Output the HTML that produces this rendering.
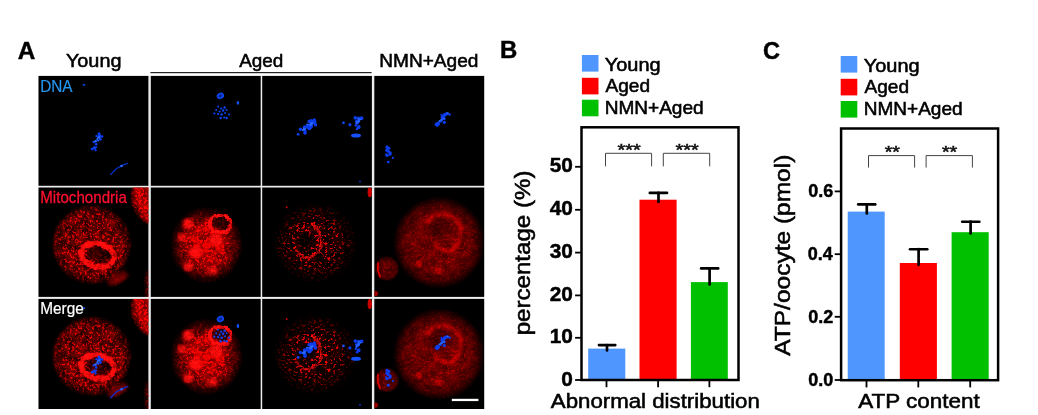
<!DOCTYPE html>
<html lang="en">
<head>
<meta charset="utf-8">
<title>Figure</title>
<style>
html,body{margin:0;padding:0;background:#fff;}
body{width:1038px;height:415px;overflow:hidden;}
svg{display:block;}
text{font-family:"Liberation Sans", Arial, Helvetica, sans-serif;}
.b{font-weight:bold;}
</style>
</head>
<body>
<svg width="1038" height="415" viewBox="0 0 1038 415">
<rect x="0" y="0" width="1038" height="415" fill="#ffffff"/>

<defs>
<filter id="spk" x="-5%" y="-5%" width="110%" height="110%" color-interpolation-filters="sRGB">
<feTurbulence type="fractalNoise" baseFrequency="0.4 0.44" numOctaves="3" seed="3" result="n1"/>
<feColorMatrix in="n1" type="matrix" values="0 0 0 0 1  0 0 0 0 1  0 0 0 0 1  5.5 0 0 0 -2.85" result="m1"/>
<feTurbulence type="fractalNoise" baseFrequency="0.12" numOctaves="2" seed="23" result="n2"/>
<feColorMatrix in="n2" type="matrix" values="0 0 0 0 1  0 0 0 0 1  0 0 0 0 1  0 3 0 0 -1" result="m2"/>
<feComposite in="SourceGraphic" in2="m2" operator="arithmetic" k1="0.42" k2="0.3" k3="0" k4="0" result="base"/>
<feComposite in="SourceGraphic" in2="m1" operator="in" result="sp"/>
<feComposite in="base" in2="sp" operator="arithmetic" k1="0" k2="1" k3="0.95" k4="0"/>
</filter>
<filter id="spkb" x="-5%" y="-5%" width="110%" height="110%" color-interpolation-filters="sRGB">
<feTurbulence type="fractalNoise" baseFrequency="0.36 0.4" numOctaves="3" seed="8" result="n1"/>
<feColorMatrix in="n1" type="matrix" values="0 0 0 0 1  0 0 0 0 1  0 0 0 0 1  5.5 0 0 0 -2.8" result="m1"/>
<feTurbulence type="fractalNoise" baseFrequency="0.12" numOctaves="2" seed="28" result="n2"/>
<feColorMatrix in="n2" type="matrix" values="0 0 0 0 1  0 0 0 0 1  0 0 0 0 1  0 3 0 0 -1" result="m2"/>
<feComposite in="SourceGraphic" in2="m2" operator="arithmetic" k1="0.45" k2="0.55" k3="0" k4="0" result="base"/>
<feComposite in="SourceGraphic" in2="m1" operator="in" result="sp"/>
<feComposite in="base" in2="sp" operator="arithmetic" k1="0" k2="1" k3="0.9" k4="0"/>
</filter>
<filter id="spk2" x="-5%" y="-5%" width="110%" height="110%" color-interpolation-filters="sRGB">
<feTurbulence type="fractalNoise" baseFrequency="0.36 0.4" numOctaves="3" seed="11" result="n1"/>
<feColorMatrix in="n1" type="matrix" values="0 0 0 0 1  0 0 0 0 1  0 0 0 0 1  7 0 0 0 -3.95" result="m1"/>
<feTurbulence type="fractalNoise" baseFrequency="0.12" numOctaves="2" seed="31" result="n2"/>
<feColorMatrix in="n2" type="matrix" values="0 0 0 0 1  0 0 0 0 1  0 0 0 0 1  0 3 0 0 -1" result="m2"/>
<feComposite in="SourceGraphic" in2="m2" operator="arithmetic" k1="0.18" k2="0.03" k3="0" k4="0" result="base"/>
<feComposite in="SourceGraphic" in2="m1" operator="in" result="sp"/>
<feComposite in="base" in2="sp" operator="arithmetic" k1="0" k2="1" k3="1.25" k4="0"/>
</filter>
<filter id="spk4" x="-5%" y="-5%" width="110%" height="110%" color-interpolation-filters="sRGB">
<feTurbulence type="fractalNoise" baseFrequency="0.42 0.46" numOctaves="3" seed="5" result="n1"/>
<feColorMatrix in="n1" type="matrix" values="0 0 0 0 1  0 0 0 0 1  0 0 0 0 1  5.5 0 0 0 -2.9" result="m1"/>
<feTurbulence type="fractalNoise" baseFrequency="0.12" numOctaves="2" seed="25" result="n2"/>
<feColorMatrix in="n2" type="matrix" values="0 0 0 0 1  0 0 0 0 1  0 0 0 0 1  0 3 0 0 -1" result="m2"/>
<feComposite in="SourceGraphic" in2="m2" operator="arithmetic" k1="0.25" k2="0.5" k3="0" k4="0" result="base"/>
<feComposite in="SourceGraphic" in2="m1" operator="in" result="sp"/>
<feComposite in="base" in2="sp" operator="arithmetic" k1="0" k2="1" k3="0.4" k4="0"/>
</filter>
<filter id="spkr" x="-5%" y="-5%" width="110%" height="110%" color-interpolation-filters="sRGB">
<feTurbulence type="fractalNoise" baseFrequency="0.36 0.4" numOctaves="3" seed="17" result="n1"/>
<feColorMatrix in="n1" type="matrix" values="0 0 0 0 1  0 0 0 0 1  0 0 0 0 1  5 0 0 0 -2.3" result="m1"/>
<feTurbulence type="fractalNoise" baseFrequency="0.12" numOctaves="2" seed="37" result="n2"/>
<feColorMatrix in="n2" type="matrix" values="0 0 0 0 1  0 0 0 0 1  0 0 0 0 1  0 3 0 0 -1" result="m2"/>
<feComposite in="SourceGraphic" in2="m2" operator="arithmetic" k1="0.5" k2="0.6" k3="0" k4="0" result="base"/>
<feComposite in="SourceGraphic" in2="m1" operator="in" result="sp"/>
<feComposite in="base" in2="sp" operator="arithmetic" k1="0" k2="1" k3="0.6" k4="0"/>
</filter>
<filter id="bl1"><feGaussianBlur stdDeviation="1"/></filter>
<filter id="bl15"><feGaussianBlur stdDeviation="1.5"/></filter>
<filter id="bl2"><feGaussianBlur stdDeviation="2"/></filter>
<filter id="bl3"><feGaussianBlur stdDeviation="3"/></filter>
<filter id="bl05"><feGaussianBlur stdDeviation="0.45"/></filter>
<filter id="rough" x="-10%" y="-10%" width="120%" height="120%">
<feTurbulence type="fractalNoise" baseFrequency="0.25" numOctaves="2" seed="4" result="t"/>
<feDisplacementMap in="SourceGraphic" in2="t" scale="5" xChannelSelector="R" yChannelSelector="G" result="d"/>
<feGaussianBlur in="d" stdDeviation="0.7"/>
</filter>
<radialGradient id="cellA" cx="50%" cy="50%" r="50%">
<stop offset="0" stop-color="#e60000" stop-opacity="0.95"/>
<stop offset="0.7" stop-color="#e60000" stop-opacity="0.9"/>
<stop offset="0.88" stop-color="#e60000" stop-opacity="0.6"/>
<stop offset="1" stop-color="#e60000" stop-opacity="0"/>
</radialGradient>
<radialGradient id="cellD" cx="50%" cy="50%" r="50%">
<stop offset="0" stop-color="#d00000" stop-opacity="0.8"/>
<stop offset="0.75" stop-color="#d00000" stop-opacity="0.72"/>
<stop offset="0.9" stop-color="#d00000" stop-opacity="0.45"/>
<stop offset="1" stop-color="#d00000" stop-opacity="0"/>
</radialGradient>
<radialGradient id="cellE" cx="50%" cy="50%" r="50%">
<stop offset="0" stop-color="#c80000" stop-opacity="0.8"/>
<stop offset="0.6" stop-color="#c80000" stop-opacity="0.74"/>
<stop offset="0.82" stop-color="#c80000" stop-opacity="0.5"/>
<stop offset="1" stop-color="#c80000" stop-opacity="0"/>
</radialGradient>
<radialGradient id="cellSoft" cx="50%" cy="50%" r="50%">
<stop offset="0" stop-color="#ee0000" stop-opacity="1"/>
<stop offset="0.45" stop-color="#ee0000" stop-opacity="0.8"/>
<stop offset="0.8" stop-color="#ee0000" stop-opacity="0.3"/>
<stop offset="1" stop-color="#ee0000" stop-opacity="0"/>
</radialGradient>

<clipPath id="cp00"><rect x="38.5" y="75.9" width="109.9" height="109.9"/></clipPath>
<clipPath id="cp01"><rect x="38.5" y="187.5" width="109.9" height="109.4"/></clipPath>
<clipPath id="cp02"><rect x="38.5" y="298.9" width="109.9" height="110.1"/></clipPath>
<clipPath id="cp10"><rect x="150.8" y="75.9" width="109.9" height="109.9"/></clipPath>
<clipPath id="cp11"><rect x="150.8" y="187.5" width="109.9" height="109.4"/></clipPath>
<clipPath id="cp12"><rect x="150.8" y="298.9" width="109.9" height="110.1"/></clipPath>
<clipPath id="cp20"><rect x="262.2" y="75.9" width="109.7" height="109.9"/></clipPath>
<clipPath id="cp21"><rect x="262.2" y="187.5" width="109.7" height="109.4"/></clipPath>
<clipPath id="cp22"><rect x="262.2" y="298.9" width="109.7" height="110.1"/></clipPath>
<clipPath id="cp30"><rect x="374.3" y="75.9" width="109.9" height="109.9"/></clipPath>
<clipPath id="cp31"><rect x="374.3" y="187.5" width="109.9" height="109.4"/></clipPath>
<clipPath id="cp32"><rect x="374.3" y="298.9" width="109.9" height="110.1"/></clipPath>
</defs>
<text class="b" transform="translate(17.69 59.30) scale(1.0053 1)" font-size="24.20" fill="#000" stroke="#000" stroke-width="0.45">A</text>
<text transform="translate(65.95 66.80) scale(1.0494 1)" font-size="18.90" fill="#000" stroke="#000" stroke-width="0.55">Young</text>
<text transform="translate(239.15 66.80) scale(0.9999 1)" font-size="18.90" fill="#000" stroke="#000" stroke-width="0.55">Aged</text>
<text transform="translate(379.23 66.80) scale(1.0100 1)" font-size="18.90" fill="#000" stroke="#000" stroke-width="0.55">NMN+Aged</text>
<rect x="150.4" y="72" width="221.2" height="1.2" fill="#222"/>
<rect x="38.5" y="75.9" width="445.7" height="333.1" fill="#eeeeee"/>
<rect x="38.5" y="75.9" width="109.9" height="109.9" fill="#000"/>
<rect x="38.5" y="187.5" width="109.9" height="109.4" fill="#000"/>
<rect x="38.5" y="298.9" width="109.9" height="110.1" fill="#000"/>
<rect x="150.8" y="75.9" width="109.9" height="109.9" fill="#000"/>
<rect x="150.8" y="187.5" width="109.9" height="109.4" fill="#000"/>
<rect x="150.8" y="298.9" width="109.9" height="110.1" fill="#000"/>
<rect x="262.2" y="75.9" width="109.7" height="109.9" fill="#000"/>
<rect x="262.2" y="187.5" width="109.7" height="109.4" fill="#000"/>
<rect x="262.2" y="298.9" width="109.7" height="110.1" fill="#000"/>
<rect x="374.3" y="75.9" width="109.9" height="109.9" fill="#000"/>
<rect x="374.3" y="187.5" width="109.9" height="109.4" fill="#000"/>
<rect x="374.3" y="298.9" width="109.9" height="110.1" fill="#000"/>
<g clip-path="url(#cp00)"><g transform="translate(0 0)" filter="url(#bl05)"><g fill="#0c3cf0"><circle cx="95.6" cy="150.2" r="1.13"/><circle cx="93.8" cy="142.0" r="1.28"/><circle cx="97.7" cy="140.4" r="0.97"/><circle cx="98.0" cy="136.8" r="1.27"/><circle cx="100.3" cy="139.2" r="1.48"/><circle cx="94.5" cy="147.8" r="1.65"/><circle cx="99.7" cy="136.1" r="1.35"/><circle cx="99.6" cy="135.3" r="1.23"/><circle cx="94.0" cy="147.8" r="1.11"/><circle cx="96.2" cy="144.2" r="1.31"/><circle cx="94.7" cy="147.8" r="1.29"/><circle cx="96.2" cy="147.2" r="0.96"/><circle cx="96.3" cy="136.0" r="1.08"/><circle cx="99.0" cy="133.9" r="1.58"/><circle cx="92.2" cy="149.1" r="1.47"/><circle cx="102.1" cy="136.4" r="1.26"/></g><g fill="#2a6cff"><circle cx="99.0" cy="136.9" r="0.75"/><circle cx="98.2" cy="137.8" r="1.10"/><circle cx="97.2" cy="139.2" r="1.03"/><circle cx="98.5" cy="140.7" r="0.79"/><circle cx="95.6" cy="141.2" r="1.25"/><circle cx="99.6" cy="137.2" r="1.00"/></g><path d="M110.6 174.6 L116.5 168.5 L124 164.6 L127.6 163.4" fill="none" stroke="#0a30c8" stroke-width="1.3" stroke-linecap="round"/><circle cx="121.5" cy="166" r="1.3" fill="#2a66ff"/><rect x="82.6" y="84.2" width="2.6" height="1.4" fill="#1450ff"/></g></g>
<g clip-path="url(#cp01)"><g transform="translate(0 0)"><g filter="url(#spk)"><circle cx="91.6" cy="244.6" r="40.5" fill="url(#cellD)"/><ellipse cx="118" cy="278" rx="11" ry="5" transform="rotate(-30 118 278)" fill="#c00000" opacity="0.45" filter="url(#bl2)"/><ellipse cx="149" cy="285" rx="3.5" ry="14" fill="#d00000" opacity="0.7" filter="url(#bl2)"/></g><g filter="url(#spkb)"><circle cx="162.6" cy="196" r="33" fill="url(#cellA)"/></g><ellipse cx="117.5" cy="278.8" rx="10.5" ry="5" transform="rotate(-28 117.5 278.8)" fill="#a00000" opacity="0.5" filter="url(#bl15)"/><ellipse cx="99.5" cy="253.5" rx="12" ry="9" fill="#000" opacity="0.55" transform="rotate(15 99.5 253.5)" filter="url(#bl15)"/><g filter="url(#spkr)"><ellipse cx="97.6" cy="255.3" rx="16.6" ry="11.8" fill="none" stroke="#ff0808" stroke-width="5.6" opacity="0.9" transform="rotate(15 97.6 255.3)" filter="url(#rough)"/></g></g></g>
<g clip-path="url(#cp02)"><g transform="translate(0 111.6)"><g filter="url(#spk)"><circle cx="91.6" cy="244.6" r="40.5" fill="url(#cellD)"/><ellipse cx="118" cy="278" rx="11" ry="5" transform="rotate(-30 118 278)" fill="#c00000" opacity="0.45" filter="url(#bl2)"/><ellipse cx="149" cy="285" rx="3.5" ry="14" fill="#d00000" opacity="0.7" filter="url(#bl2)"/></g><g filter="url(#spkb)"><circle cx="162.6" cy="196" r="33" fill="url(#cellA)"/></g><ellipse cx="117.5" cy="278.8" rx="10.5" ry="5" transform="rotate(-28 117.5 278.8)" fill="#a00000" opacity="0.5" filter="url(#bl15)"/><ellipse cx="99.5" cy="253.5" rx="12" ry="9" fill="#000" opacity="0.55" transform="rotate(15 99.5 253.5)" filter="url(#bl15)"/><g filter="url(#spkr)"><ellipse cx="97.6" cy="255.3" rx="16.6" ry="11.8" fill="none" stroke="#ff0808" stroke-width="5.6" opacity="0.9" transform="rotate(15 97.6 255.3)" filter="url(#rough)"/></g></g><g transform="translate(0 223.2)" filter="url(#bl05)"><g fill="#0c3cf0"><circle cx="95.6" cy="150.2" r="1.13"/><circle cx="93.8" cy="142.0" r="1.28"/><circle cx="97.7" cy="140.4" r="0.97"/><circle cx="98.0" cy="136.8" r="1.27"/><circle cx="100.3" cy="139.2" r="1.48"/><circle cx="94.5" cy="147.8" r="1.65"/><circle cx="99.7" cy="136.1" r="1.35"/><circle cx="99.6" cy="135.3" r="1.23"/><circle cx="94.0" cy="147.8" r="1.11"/><circle cx="96.2" cy="144.2" r="1.31"/><circle cx="94.7" cy="147.8" r="1.29"/><circle cx="96.2" cy="147.2" r="0.96"/><circle cx="96.3" cy="136.0" r="1.08"/><circle cx="99.0" cy="133.9" r="1.58"/><circle cx="92.2" cy="149.1" r="1.47"/><circle cx="102.1" cy="136.4" r="1.26"/></g><g fill="#2a6cff"><circle cx="99.0" cy="136.9" r="0.75"/><circle cx="98.2" cy="137.8" r="1.10"/><circle cx="97.2" cy="139.2" r="1.03"/><circle cx="98.5" cy="140.7" r="0.79"/><circle cx="95.6" cy="141.2" r="1.25"/><circle cx="99.6" cy="137.2" r="1.00"/></g><path d="M110.6 174.6 L116.5 168.5 L124 164.6 L127.6 163.4" fill="none" stroke="#0a30c8" stroke-width="1.3" stroke-linecap="round"/><circle cx="121.5" cy="166" r="1.3" fill="#2a66ff"/><rect x="82.6" y="84.2" width="2.6" height="1.4" fill="#1450ff"/></g></g>
<g clip-path="url(#cp10)"><g transform="translate(0 0)" filter="url(#bl05)"><ellipse cx="220.4" cy="95.8" rx="3" ry="2.3" transform="rotate(-25 220.4 95.8)" fill="#08269a" stroke="#1048f0" stroke-width="1.6"/><ellipse cx="237.9" cy="102.8" rx="1.3" ry="1.9" fill="#1450ff"/><g fill="#0e44f4"><circle cx="218.1" cy="106.5" r="1.00"/><circle cx="221.1" cy="108.5" r="1.12"/><circle cx="224.6" cy="107.5" r="1.25"/><circle cx="216.1" cy="110" r="1.00"/><circle cx="219.6" cy="111.5" r="1.12"/><circle cx="223.1" cy="110.5" r="1.25"/><circle cx="226.6" cy="110" r="1.00"/><circle cx="218.1" cy="114" r="1.12"/><circle cx="221.6" cy="114.5" r="1.25"/><circle cx="225.1" cy="113" r="1.00"/><circle cx="229.1" cy="114.5" r="1.12"/><circle cx="220.6" cy="118" r="1.25"/><circle cx="224.1" cy="117.5" r="1.00"/><circle cx="214.4" cy="113.5" r="1.12"/><circle cx="226.6" cy="118" r="1.25"/></g></g></g>
<g clip-path="url(#cp11)"><g transform="translate(0 0)"><g filter="url(#spkb)"><ellipse cx="206.5" cy="245" rx="36.5" ry="38.5" fill="url(#cellSoft)"/></g><g filter="url(#spkr)"><circle cx="188.4" cy="224" r="5.5" fill="#ff0a0a" opacity="0.85" filter="url(#bl15)"/><circle cx="196.3" cy="252" r="6.5" fill="#ff0a0a" opacity="0.85" filter="url(#bl15)"/><circle cx="216" cy="240" r="6.5" fill="#ff0a0a" opacity="0.85" filter="url(#bl15)"/><circle cx="212.2" cy="270.4" r="5" fill="#ff0a0a" opacity="0.85" filter="url(#bl15)"/><circle cx="188.4" cy="266.5" r="5" fill="#ff0a0a" opacity="0.85" filter="url(#bl15)"/><circle cx="181.8" cy="237.3" r="4" fill="#ff0a0a" opacity="0.85" filter="url(#bl15)"/></g><ellipse cx="220.3" cy="223.3" rx="8.5" ry="7" fill="#000" opacity="0.5" filter="url(#bl1)"/><g filter="url(#spkr)"><ellipse cx="220.3" cy="224" rx="10.6" ry="9" fill="none" stroke="#ff0a0a" stroke-width="3.6" opacity="1.0" transform="rotate(0 220.3 224)" filter="url(#rough)"/></g></g></g>
<g clip-path="url(#cp12)"><g transform="translate(0 111.6)"><g filter="url(#spkb)"><ellipse cx="206.5" cy="245" rx="36.5" ry="38.5" fill="url(#cellSoft)"/></g><g filter="url(#spkr)"><circle cx="188.4" cy="224" r="5.5" fill="#ff0a0a" opacity="0.85" filter="url(#bl15)"/><circle cx="196.3" cy="252" r="6.5" fill="#ff0a0a" opacity="0.85" filter="url(#bl15)"/><circle cx="216" cy="240" r="6.5" fill="#ff0a0a" opacity="0.85" filter="url(#bl15)"/><circle cx="212.2" cy="270.4" r="5" fill="#ff0a0a" opacity="0.85" filter="url(#bl15)"/><circle cx="188.4" cy="266.5" r="5" fill="#ff0a0a" opacity="0.85" filter="url(#bl15)"/><circle cx="181.8" cy="237.3" r="4" fill="#ff0a0a" opacity="0.85" filter="url(#bl15)"/></g><ellipse cx="220.3" cy="223.3" rx="8.5" ry="7" fill="#000" opacity="0.5" filter="url(#bl1)"/><g filter="url(#spkr)"><ellipse cx="220.3" cy="224" rx="10.6" ry="9" fill="none" stroke="#ff0a0a" stroke-width="3.6" opacity="1.0" transform="rotate(0 220.3 224)" filter="url(#rough)"/></g></g><g transform="translate(0 223.2)" filter="url(#bl05)"><ellipse cx="220.4" cy="95.8" rx="3" ry="2.3" transform="rotate(-25 220.4 95.8)" fill="#08269a" stroke="#1048f0" stroke-width="1.6"/><ellipse cx="237.9" cy="102.8" rx="1.3" ry="1.9" fill="#1450ff"/><g fill="#0e44f4"><circle cx="218.1" cy="106.5" r="1.00"/><circle cx="221.1" cy="108.5" r="1.12"/><circle cx="224.6" cy="107.5" r="1.25"/><circle cx="216.1" cy="110" r="1.00"/><circle cx="219.6" cy="111.5" r="1.12"/><circle cx="223.1" cy="110.5" r="1.25"/><circle cx="226.6" cy="110" r="1.00"/><circle cx="218.1" cy="114" r="1.12"/><circle cx="221.6" cy="114.5" r="1.25"/><circle cx="225.1" cy="113" r="1.00"/><circle cx="229.1" cy="114.5" r="1.12"/><circle cx="220.6" cy="118" r="1.25"/><circle cx="224.1" cy="117.5" r="1.00"/><circle cx="214.4" cy="113.5" r="1.12"/><circle cx="226.6" cy="118" r="1.25"/></g></g></g>
<g clip-path="url(#cp20)"><g transform="translate(0 0)" filter="url(#bl05)"><g fill="#0c3cf0"><circle cx="300.5" cy="129.2" r="1.75"/><circle cx="308.2" cy="125.2" r="1.25"/><circle cx="298.1" cy="134.3" r="1.41"/><circle cx="314.3" cy="119.8" r="1.63"/><circle cx="310.6" cy="120.7" r="1.33"/><circle cx="308.9" cy="125.9" r="2.00"/><circle cx="306.6" cy="126.9" r="1.25"/><circle cx="309.1" cy="121.6" r="1.74"/><circle cx="305.1" cy="133.0" r="1.63"/><circle cx="310.7" cy="125.1" r="2.01"/><circle cx="311.1" cy="126.0" r="1.94"/><circle cx="304.8" cy="127.2" r="2.06"/><circle cx="313.6" cy="123.1" r="1.39"/><circle cx="315.0" cy="121.8" r="1.60"/><circle cx="308.1" cy="125.1" r="1.55"/><circle cx="305.0" cy="131.1" r="1.74"/><circle cx="309.3" cy="128.2" r="2.06"/><circle cx="311.6" cy="121.3" r="2.12"/><circle cx="310.6" cy="126.8" r="2.09"/><circle cx="315.5" cy="124.8" r="1.72"/><circle cx="310.6" cy="125.3" r="1.73"/><circle cx="304.6" cy="133.0" r="1.25"/></g><g fill="#2a6cff"><circle cx="305.0" cy="128.8" r="0.86"/><circle cx="302.9" cy="130.1" r="1.01"/><circle cx="312.5" cy="123.0" r="0.90"/><circle cx="307.0" cy="124.4" r="0.94"/><circle cx="304.1" cy="129.1" r="1.33"/><circle cx="311.5" cy="123.6" r="1.26"/><circle cx="311.1" cy="123.8" r="1.15"/><circle cx="310.6" cy="124.7" r="1.29"/></g><g fill="#0c3cf0"><circle cx="358.1" cy="121.1" r="1.83"/><circle cx="355.3" cy="117.9" r="1.81"/><circle cx="349.9" cy="124.7" r="1.59"/><circle cx="360.9" cy="118.9" r="1.14"/><circle cx="357.4" cy="122.9" r="1.52"/><circle cx="357.1" cy="129.0" r="1.23"/><circle cx="359.2" cy="126.5" r="1.18"/><circle cx="357.6" cy="118.4" r="1.16"/><circle cx="358.3" cy="121.3" r="1.77"/><circle cx="355.8" cy="125.6" r="1.23"/><circle cx="361.6" cy="118.2" r="1.84"/><circle cx="356.5" cy="121.4" r="1.61"/><circle cx="358.6" cy="127.2" r="1.85"/><circle cx="358.7" cy="117.8" r="1.30"/></g><g fill="#2a6cff"><circle cx="360.5" cy="119.5" r="0.84"/><circle cx="356.4" cy="123.5" r="1.06"/><circle cx="358.9" cy="121.2" r="1.12"/><circle cx="357.4" cy="121.9" r="1.14"/><circle cx="358.9" cy="119.1" r="1.08"/></g><ellipse cx="356" cy="135.5" rx="5" ry="2" fill="#1450ff"/><circle cx="343.5" cy="122.7" r="1.3" fill="#1450ff"/><circle cx="360" cy="181.6" r="1" fill="#0b2bb0"/></g></g>
<g clip-path="url(#cp21)"><g transform="translate(0 0)"><g filter="url(#spk2)"><ellipse cx="315" cy="242.6" rx="42" ry="40" fill="url(#cellSoft)"/><ellipse cx="305.7" cy="241" rx="8" ry="7.5" fill="#000" opacity="0.85" filter="url(#bl15)"/></g><g filter="url(#spkr)"><path d="M311 223 Q322 232 321.5 245 Q319 256 307 257.5 Q299 256 296 249" fill="none" stroke="#e00808" stroke-width="2.4" opacity="0.7" filter="url(#rough)"/></g><ellipse cx="369.8" cy="192.3" rx="2.2" ry="5" fill="#e00000" opacity="0.9" filter="url(#bl05)"/><circle cx="286.7" cy="207.3" r="1" fill="#d00000"/></g></g>
<g clip-path="url(#cp22)"><g transform="translate(0 111.6)"><g filter="url(#spk2)"><ellipse cx="315" cy="242.6" rx="42" ry="40" fill="url(#cellSoft)"/><ellipse cx="305.7" cy="241" rx="8" ry="7.5" fill="#000" opacity="0.85" filter="url(#bl15)"/></g><g filter="url(#spkr)"><path d="M311 223 Q322 232 321.5 245 Q319 256 307 257.5 Q299 256 296 249" fill="none" stroke="#e00808" stroke-width="2.4" opacity="0.7" filter="url(#rough)"/></g><ellipse cx="369.8" cy="192.3" rx="2.2" ry="5" fill="#e00000" opacity="0.9" filter="url(#bl05)"/><circle cx="286.7" cy="207.3" r="1" fill="#d00000"/></g><g transform="translate(0 223.2)" filter="url(#bl05)"><g fill="#0c3cf0"><circle cx="300.5" cy="129.2" r="1.75"/><circle cx="308.2" cy="125.2" r="1.25"/><circle cx="298.1" cy="134.3" r="1.41"/><circle cx="314.3" cy="119.8" r="1.63"/><circle cx="310.6" cy="120.7" r="1.33"/><circle cx="308.9" cy="125.9" r="2.00"/><circle cx="306.6" cy="126.9" r="1.25"/><circle cx="309.1" cy="121.6" r="1.74"/><circle cx="305.1" cy="133.0" r="1.63"/><circle cx="310.7" cy="125.1" r="2.01"/><circle cx="311.1" cy="126.0" r="1.94"/><circle cx="304.8" cy="127.2" r="2.06"/><circle cx="313.6" cy="123.1" r="1.39"/><circle cx="315.0" cy="121.8" r="1.60"/><circle cx="308.1" cy="125.1" r="1.55"/><circle cx="305.0" cy="131.1" r="1.74"/><circle cx="309.3" cy="128.2" r="2.06"/><circle cx="311.6" cy="121.3" r="2.12"/><circle cx="310.6" cy="126.8" r="2.09"/><circle cx="315.5" cy="124.8" r="1.72"/><circle cx="310.6" cy="125.3" r="1.73"/><circle cx="304.6" cy="133.0" r="1.25"/></g><g fill="#2a6cff"><circle cx="305.0" cy="128.8" r="0.86"/><circle cx="302.9" cy="130.1" r="1.01"/><circle cx="312.5" cy="123.0" r="0.90"/><circle cx="307.0" cy="124.4" r="0.94"/><circle cx="304.1" cy="129.1" r="1.33"/><circle cx="311.5" cy="123.6" r="1.26"/><circle cx="311.1" cy="123.8" r="1.15"/><circle cx="310.6" cy="124.7" r="1.29"/></g><g fill="#0c3cf0"><circle cx="358.1" cy="121.1" r="1.83"/><circle cx="355.3" cy="117.9" r="1.81"/><circle cx="349.9" cy="124.7" r="1.59"/><circle cx="360.9" cy="118.9" r="1.14"/><circle cx="357.4" cy="122.9" r="1.52"/><circle cx="357.1" cy="129.0" r="1.23"/><circle cx="359.2" cy="126.5" r="1.18"/><circle cx="357.6" cy="118.4" r="1.16"/><circle cx="358.3" cy="121.3" r="1.77"/><circle cx="355.8" cy="125.6" r="1.23"/><circle cx="361.6" cy="118.2" r="1.84"/><circle cx="356.5" cy="121.4" r="1.61"/><circle cx="358.6" cy="127.2" r="1.85"/><circle cx="358.7" cy="117.8" r="1.30"/></g><g fill="#2a6cff"><circle cx="360.5" cy="119.5" r="0.84"/><circle cx="356.4" cy="123.5" r="1.06"/><circle cx="358.9" cy="121.2" r="1.12"/><circle cx="357.4" cy="121.9" r="1.14"/><circle cx="358.9" cy="119.1" r="1.08"/></g><ellipse cx="356" cy="135.5" rx="5" ry="2" fill="#1450ff"/><circle cx="343.5" cy="122.7" r="1.3" fill="#1450ff"/><circle cx="360" cy="181.6" r="1" fill="#0b2bb0"/></g></g>
<g clip-path="url(#cp30)"><g transform="translate(0 0)" filter="url(#bl05)"><g fill="#0c3cf0"><circle cx="440.9" cy="121.7" r="1.07"/><circle cx="444.4" cy="118.9" r="1.31"/><circle cx="435.9" cy="124.6" r="1.36"/><circle cx="436.3" cy="124.7" r="1.09"/><circle cx="441.8" cy="119.6" r="1.19"/><circle cx="444.0" cy="115.8" r="1.77"/><circle cx="441.4" cy="114.8" r="1.05"/><circle cx="449.6" cy="114.5" r="1.25"/><circle cx="438.1" cy="124.2" r="1.67"/><circle cx="438.6" cy="123.6" r="1.48"/><circle cx="443.7" cy="115.2" r="1.07"/><circle cx="437.2" cy="125.8" r="1.18"/><circle cx="444.4" cy="114.7" r="1.48"/><circle cx="442.3" cy="119.3" r="1.25"/><circle cx="446.6" cy="113.5" r="1.47"/><circle cx="442.2" cy="117.1" r="1.71"/><circle cx="445.2" cy="114.0" r="1.11"/><circle cx="444.3" cy="122.3" r="1.62"/><circle cx="437.2" cy="123.2" r="1.55"/><circle cx="446.5" cy="114.2" r="1.47"/></g><g fill="#2a6cff"><circle cx="441.5" cy="120.0" r="1.09"/><circle cx="440.0" cy="120.8" r="0.84"/><circle cx="447.9" cy="113.2" r="0.95"/><circle cx="443.9" cy="118.5" r="0.97"/><circle cx="441.1" cy="120.1" r="0.83"/><circle cx="439.3" cy="121.2" r="0.85"/><circle cx="443.2" cy="118.6" r="0.76"/></g><g fill="#0c3cf0"><circle cx="389.9" cy="154.2" r="1.65"/><circle cx="387.1" cy="146.9" r="1.37"/><circle cx="388.3" cy="162.1" r="1.45"/><circle cx="386.7" cy="147.5" r="1.27"/><circle cx="392.9" cy="157.9" r="1.10"/><circle cx="387.6" cy="150.8" r="1.07"/><circle cx="387.0" cy="155.5" r="1.58"/><circle cx="390.2" cy="152.8" r="1.55"/><circle cx="388.9" cy="148.2" r="1.54"/><circle cx="386.2" cy="154.2" r="1.05"/><circle cx="388.2" cy="151.2" r="1.60"/><circle cx="386.9" cy="150.2" r="1.66"/></g></g></g>
<g clip-path="url(#cp31)"><g transform="translate(0 0)"><g filter="url(#spk4)"><circle cx="439" cy="242.6" r="46" fill="url(#cellE)"/><circle cx="386.8" cy="268.6" r="12.8" fill="url(#cellE)" opacity="0.85"/></g><ellipse cx="440" cy="228" rx="11.5" ry="10" fill="#000" opacity="0.3" filter="url(#bl2)"/><g filter="url(#spkr)" opacity="0.55"><path d="M427.5 224 Q430 214.5 442 213.5 Q457 215 461 230 Q461.5 245 450 251 Q440 251.5 434.5 245" fill="none" stroke="#ff0000" stroke-width="3.4" filter="url(#bl15)"/><circle cx="419" cy="264" r="3.2" fill="#ff0000" filter="url(#bl1)"/><circle cx="438.5" cy="271" r="3.2" fill="#ff0000" filter="url(#bl1)"/></g><path d="M378.3 262.5 Q376.6 270 380.5 277.5" fill="none" stroke="#ff0000" stroke-width="1.8" opacity="0.8" filter="url(#bl05)"/><circle cx="375.5" cy="293.5" r="2.6" fill="#c00000" opacity="0.8" filter="url(#bl05)"/></g></g>
<g clip-path="url(#cp32)"><g transform="translate(0 111.6)"><g filter="url(#spk4)"><circle cx="439" cy="242.6" r="46" fill="url(#cellE)"/><circle cx="386.8" cy="268.6" r="12.8" fill="url(#cellE)" opacity="0.85"/></g><ellipse cx="440" cy="228" rx="11.5" ry="10" fill="#000" opacity="0.3" filter="url(#bl2)"/><g filter="url(#spkr)" opacity="0.55"><path d="M427.5 224 Q430 214.5 442 213.5 Q457 215 461 230 Q461.5 245 450 251 Q440 251.5 434.5 245" fill="none" stroke="#ff0000" stroke-width="3.4" filter="url(#bl15)"/><circle cx="419" cy="264" r="3.2" fill="#ff0000" filter="url(#bl1)"/><circle cx="438.5" cy="271" r="3.2" fill="#ff0000" filter="url(#bl1)"/></g><path d="M378.3 262.5 Q376.6 270 380.5 277.5" fill="none" stroke="#ff0000" stroke-width="1.8" opacity="0.8" filter="url(#bl05)"/><circle cx="375.5" cy="293.5" r="2.6" fill="#c00000" opacity="0.8" filter="url(#bl05)"/></g><g transform="translate(0 223.2)" filter="url(#bl05)"><g fill="#0c3cf0"><circle cx="440.9" cy="121.7" r="1.07"/><circle cx="444.4" cy="118.9" r="1.31"/><circle cx="435.9" cy="124.6" r="1.36"/><circle cx="436.3" cy="124.7" r="1.09"/><circle cx="441.8" cy="119.6" r="1.19"/><circle cx="444.0" cy="115.8" r="1.77"/><circle cx="441.4" cy="114.8" r="1.05"/><circle cx="449.6" cy="114.5" r="1.25"/><circle cx="438.1" cy="124.2" r="1.67"/><circle cx="438.6" cy="123.6" r="1.48"/><circle cx="443.7" cy="115.2" r="1.07"/><circle cx="437.2" cy="125.8" r="1.18"/><circle cx="444.4" cy="114.7" r="1.48"/><circle cx="442.3" cy="119.3" r="1.25"/><circle cx="446.6" cy="113.5" r="1.47"/><circle cx="442.2" cy="117.1" r="1.71"/><circle cx="445.2" cy="114.0" r="1.11"/><circle cx="444.3" cy="122.3" r="1.62"/><circle cx="437.2" cy="123.2" r="1.55"/><circle cx="446.5" cy="114.2" r="1.47"/></g><g fill="#2a6cff"><circle cx="441.5" cy="120.0" r="1.09"/><circle cx="440.0" cy="120.8" r="0.84"/><circle cx="447.9" cy="113.2" r="0.95"/><circle cx="443.9" cy="118.5" r="0.97"/><circle cx="441.1" cy="120.1" r="0.83"/><circle cx="439.3" cy="121.2" r="0.85"/><circle cx="443.2" cy="118.6" r="0.76"/></g><g fill="#0c3cf0"><circle cx="389.9" cy="154.2" r="1.65"/><circle cx="387.1" cy="146.9" r="1.37"/><circle cx="388.3" cy="162.1" r="1.45"/><circle cx="386.7" cy="147.5" r="1.27"/><circle cx="392.9" cy="157.9" r="1.10"/><circle cx="387.6" cy="150.8" r="1.07"/><circle cx="387.0" cy="155.5" r="1.58"/><circle cx="390.2" cy="152.8" r="1.55"/><circle cx="388.9" cy="148.2" r="1.54"/><circle cx="386.2" cy="154.2" r="1.05"/><circle cx="388.2" cy="151.2" r="1.60"/><circle cx="386.9" cy="150.2" r="1.66"/></g></g></g>
<text transform="translate(40.13 91.80) scale(0.9240 1)" font-size="16.60" fill="#2596f2" stroke="#2596f2" stroke-width="0.2">DNA</text>
<text transform="translate(40.25 202.70) scale(0.9349 1)" font-size="16.20" fill="#ff1030" stroke="#ff1030" stroke-width="0.3">Mitochondria</text>
<text transform="translate(40.23 314.40) scale(0.9507 1)" font-size="16.20" fill="#ffffff" stroke="#ffffff" stroke-width="0.2">Merge</text>
<rect x="451.8" y="398.8" width="26.6" height="2.3" fill="#fff"/>
<text class="b" transform="translate(499.88 58.20) scale(1.0185 1)" font-size="23.50" fill="#000" stroke="#000" stroke-width="0.45">B</text>
<rect x="581.9" y="55" width="16.6" height="16.6" fill="#4f97ff"/>
<text transform="translate(604.75 70.60) scale(1.0840 1)" font-size="18.40" fill="#000" stroke="#000" stroke-width="0.55">Young</text>
<rect x="581.9" y="77.8" width="16.6" height="16.6" fill="#ff0000"/>
<text transform="translate(605.45 92.40) scale(1.0367 1)" font-size="18.40" fill="#000" stroke="#000" stroke-width="0.55">Aged</text>
<rect x="581.9" y="99.7" width="16.6" height="16.6" fill="#00c000"/>
<text transform="translate(604.63 114.40) scale(1.0364 1)" font-size="18.40" fill="#000" stroke="#000" stroke-width="0.55">NMN+Aged</text>
<rect x="588.2" y="348.6" width="37.1" height="31.4" fill="#4f97ff"/>
<rect x="639.5" y="199.7" width="37.1" height="180.3" fill="#ff0000"/>
<rect x="690.9" y="282.1" width="36.9" height="97.9" fill="#00c000"/>
<path d="M598.9 345.1 H615.3" stroke="#000" stroke-width="2.6" fill="none" stroke-linecap="round"/>
<path d="M607.0 345.1 V350.5" stroke="#000" stroke-width="2.7" fill="none" stroke-linecap="round"/>
<path d="M649.8 192.9 H667.0" stroke="#000" stroke-width="2.6" fill="none" stroke-linecap="round"/>
<path d="M658.5 192.9 V202.0" stroke="#000" stroke-width="2.7" fill="none" stroke-linecap="round"/>
<path d="M701.1 268.4 H718.2" stroke="#000" stroke-width="2.6" fill="none" stroke-linecap="round"/>
<path d="M709.6 268.4 V284.5" stroke="#000" stroke-width="2.7" fill="none" stroke-linecap="round"/>
<rect x="581.5" y="127.3" width="157.0" height="252.7" fill="none" stroke="#000" stroke-width="2.5"/>
<path d="M575.1 166.8 H581.5" stroke="#000" stroke-width="1.8"/>
<text class="b" transform="translate(549.67 172.30) scale(1.0279 1)" font-size="20.30" fill="#000" stroke="#000" stroke-width="0.45">50</text>
<path d="M575.1 209.8 H581.5" stroke="#000" stroke-width="1.8"/>
<text class="b" transform="translate(549.67 215.30) scale(1.0279 1)" font-size="20.30" fill="#000" stroke="#000" stroke-width="0.45">40</text>
<path d="M575.1 252.6 H581.5" stroke="#000" stroke-width="1.8"/>
<text class="b" transform="translate(549.67 258.10) scale(1.0279 1)" font-size="20.30" fill="#000" stroke="#000" stroke-width="0.45">30</text>
<path d="M575.1 295.4 H581.5" stroke="#000" stroke-width="1.8"/>
<text class="b" transform="translate(549.67 300.90) scale(1.0279 1)" font-size="20.30" fill="#000" stroke="#000" stroke-width="0.45">20</text>
<path d="M575.1 337.8 H581.5" stroke="#000" stroke-width="1.8"/>
<text class="b" transform="translate(549.67 343.30) scale(1.0279 1)" font-size="20.30" fill="#000" stroke="#000" stroke-width="0.45">10</text>
<path d="M575.1 380.0 H581.5" stroke="#000" stroke-width="1.8"/>
<text class="b" transform="translate(561.25 385.50) scale(1.0279 1)" font-size="20.30" fill="#000" stroke="#000" stroke-width="0.45">0</text>
<path d="M606.5 380.0 V387.2" stroke="#000" stroke-width="1.8"/>
<path d="M658.1 380.0 V387.2" stroke="#000" stroke-width="1.8"/>
<path d="M709.4 380.0 V387.2" stroke="#000" stroke-width="1.8"/>
<text transform="translate(550.84 408.40) scale(1.0804 1)" font-size="20.60" fill="#000" stroke="#000" stroke-width="0.55">Abnormal distribution</text>
<text transform="translate(529.70 335.37) rotate(-90) scale(1.0816 1)" font-size="22.30" fill="#000" stroke="#000" stroke-width="0.55">percentage (%)</text>
<path d="M605.5 166.3 V153.3 H651.6 V166.3" stroke="#444" stroke-width="1" fill="none"/>
<path d="M663.3 166.3 V153.3 H709.7 V166.3" stroke="#444" stroke-width="1" fill="none"/>
<text transform="translate(617.45 155.60) scale(1.1968 1)" font-size="16.60" fill="#111" stroke="#111" stroke-width="0.55">***</text>
<text transform="translate(675.55 155.60) scale(1.1968 1)" font-size="16.60" fill="#111" stroke="#111" stroke-width="0.55">***</text>
<text class="b" transform="translate(762.95 59.00) scale(1.0070 1)" font-size="23.50" fill="#000" stroke="#000" stroke-width="0.45">C</text>
<rect x="840.7" y="56" width="16.6" height="16.6" fill="#4f97ff"/>
<text transform="translate(863.75 71.60) scale(1.0840 1)" font-size="18.40" fill="#000" stroke="#000" stroke-width="0.55">Young</text>
<rect x="840.7" y="78.8" width="16.6" height="16.6" fill="#ff0000"/>
<text transform="translate(864.45 93.40) scale(1.0367 1)" font-size="18.40" fill="#000" stroke="#000" stroke-width="0.55">Aged</text>
<rect x="840.7" y="101.0" width="16.6" height="16.6" fill="#00c000"/>
<text transform="translate(863.63 115.40) scale(1.0364 1)" font-size="18.40" fill="#000" stroke="#000" stroke-width="0.55">NMN+Aged</text>
<rect x="847.7" y="211.6" width="37.0" height="168.6" fill="#4f97ff"/>
<rect x="899.8" y="263.0" width="37.1" height="117.2" fill="#ff0000"/>
<rect x="951.6" y="232.2" width="37.1" height="148.0" fill="#00c000"/>
<path d="M858.2 204.4 H875.3" stroke="#000" stroke-width="2.6" fill="none" stroke-linecap="round"/>
<path d="M866.8 204.4 V213.4" stroke="#000" stroke-width="2.7" fill="none" stroke-linecap="round"/>
<path d="M910 249.2 H927.3" stroke="#000" stroke-width="2.6" fill="none" stroke-linecap="round"/>
<path d="M918.6 249.2 V264.8" stroke="#000" stroke-width="2.7" fill="none" stroke-linecap="round"/>
<path d="M962.2 221.7 H979.4" stroke="#000" stroke-width="2.6" fill="none" stroke-linecap="round"/>
<path d="M970.6 221.7 V233.4" stroke="#000" stroke-width="2.7" fill="none" stroke-linecap="round"/>
<rect x="841.1" y="128.5" width="157.0" height="251.7" fill="none" stroke="#000" stroke-width="2.5"/>
<path d="M834.7 191.4 H841.1" stroke="#000" stroke-width="1.8"/>
<text class="b" transform="translate(808.18 197.40) scale(0.9849 1)" font-size="18.30" fill="#000" stroke="#000" stroke-width="0.45">0.6</text>
<path d="M834.7 254.2 H841.1" stroke="#000" stroke-width="1.8"/>
<text class="b" transform="translate(807.64 260.20) scale(0.9849 1)" font-size="18.30" fill="#000" stroke="#000" stroke-width="0.45">0.4</text>
<path d="M834.7 316.8 H841.1" stroke="#000" stroke-width="1.8"/>
<text class="b" transform="translate(808.22 322.80) scale(0.9849 1)" font-size="18.30" fill="#000" stroke="#000" stroke-width="0.45">0.2</text>
<path d="M834.7 380.0 H841.1" stroke="#000" stroke-width="1.8"/>
<text class="b" transform="translate(808.27 386.00) scale(0.9849 1)" font-size="18.30" fill="#000" stroke="#000" stroke-width="0.45">0.0</text>
<path d="M866.5 380.2 V387.4" stroke="#000" stroke-width="1.8"/>
<path d="M918.3 380.2 V387.4" stroke="#000" stroke-width="1.8"/>
<path d="M970.2 380.2 V387.4" stroke="#000" stroke-width="1.8"/>
<text transform="translate(858.14 408.40) scale(1.0922 1)" font-size="20.60" fill="#000" stroke="#000" stroke-width="0.55">ATP content</text>
<text transform="translate(790.00 355.76) rotate(-90) scale(1.0757 1)" font-size="22.80" fill="#000" stroke="#000" stroke-width="0.55">ATP/oocyte (pmol)</text>
<path d="M868.5 167.6 V155.6 H914.6 V167.6" stroke="#444" stroke-width="1" fill="none"/>
<path d="M926.1 167.6 V155.6 H972.4 V167.6" stroke="#444" stroke-width="1" fill="none"/>
<text transform="translate(884.66 158.20) scale(1.1806 1)" font-size="16.60" fill="#111" stroke="#111" stroke-width="0.55">**</text>
<text transform="translate(941.96 158.20) scale(1.1806 1)" font-size="16.60" fill="#111" stroke="#111" stroke-width="0.55">**</text>
</svg>
</body>
</html>
